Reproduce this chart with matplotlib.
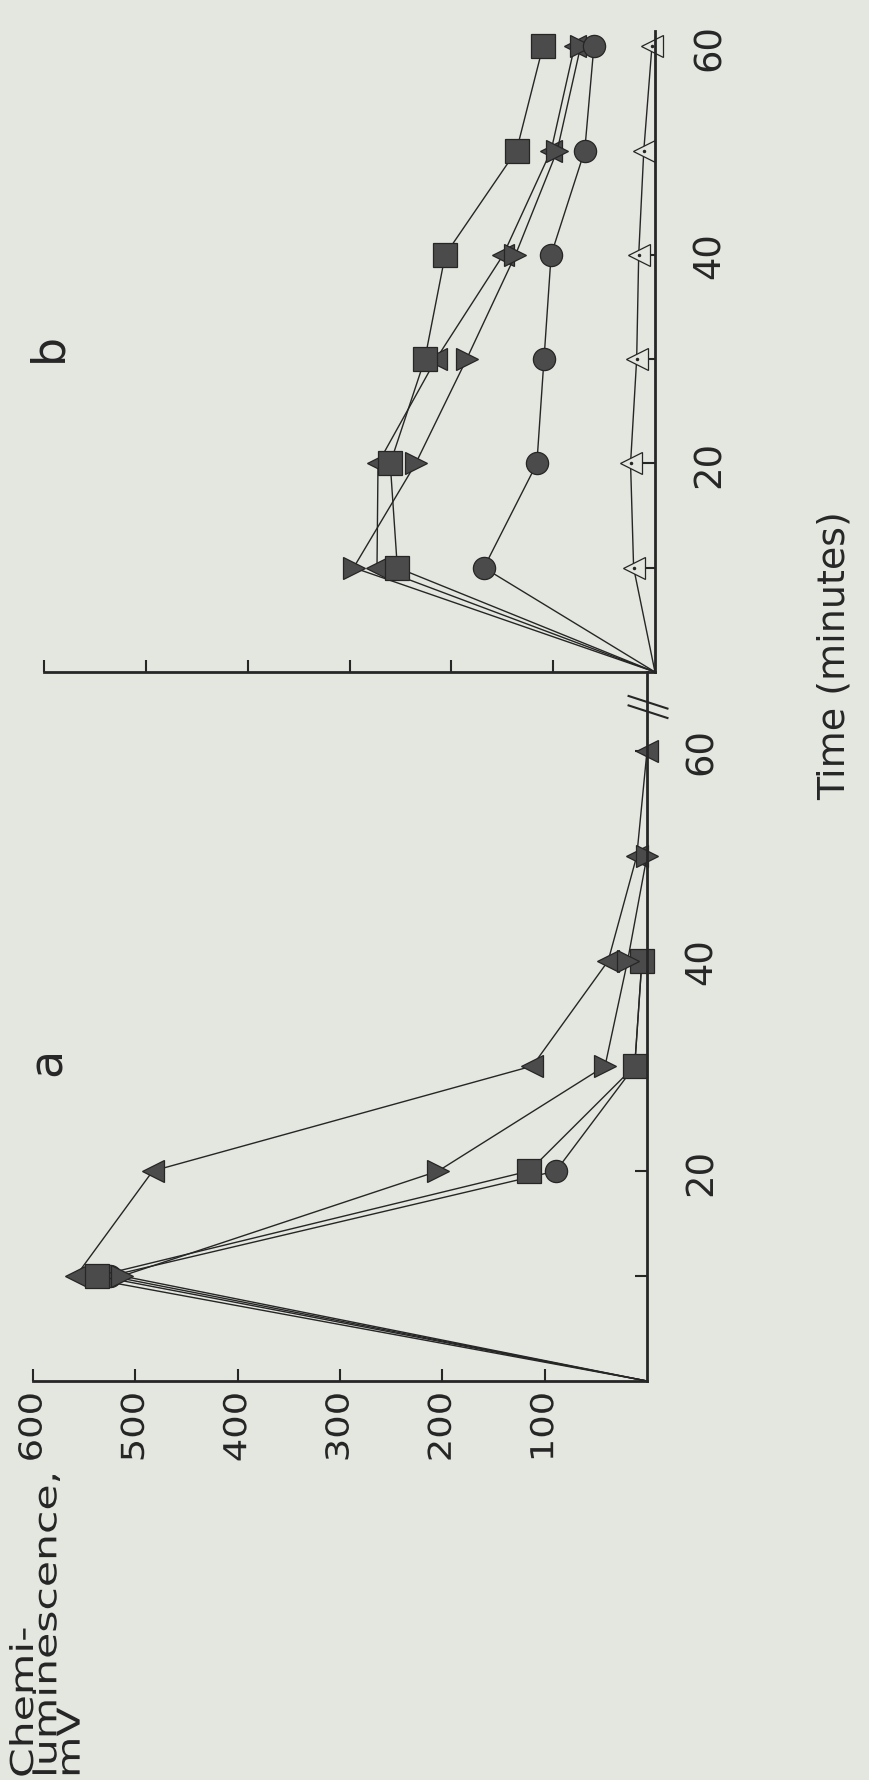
import matplotlib.pyplot as plt
from matplotlib import patheffects
from matplotlib.transforms import Affine2D

# tiempos de muestreo (minutos)
tiempos = [0, 10, 20, 30, 40, 50, 60]

# panel a (mV)
a_triangulo_arriba = [0, 558, 483, 112, 38, 10, 0]
a_triangulo_abajo = [0, 513, 204, 41, 19, 0]
a_cuadrado = [0, 537, 115, 12, 5]
a_circulo = [0, 525, 89, 12, 5]

# panel b (mV)
b_triangulo_arriba = [0, 273, 272, 215, 149, 102, 79]
b_triangulo_abajo = [0, 296, 235, 185, 137, 96, 73]
b_cuadrado = [0, 253, 260, 226, 206, 136, 110]
b_circulo = [0, 168, 116, 109, 102, 69, 60]
b_triangulo_abierto = [0, 21, 24, 18, 16, 11, 3]

valores_eje = [100, 200, 300, 400, 500, 600]
marcas_tiempo = [20, 40, 60]
marcas_tiempo_menores = [10, 30, 50]

ANCHO, ALTO = 869, 1781
fondo = '#e3e7df'
tinta = '#262626'
relleno = '#4b4b4b'


class Estirar(patheffects.AbstractPathEffect):
    """Ensancha el texto a lo largo de la línea de escritura."""

    def __init__(self, factor, ancla='left'):
        super().__init__()
        self.factor = factor
        self.ancla = ancla

    def draw_path(self, renderer, gc, tpath, affine, rgbFace=None):
        ext = tpath.get_extents()
        if self.ancla == 'left':
            cx = 0
        elif self.ancla == 'right':
            cx = ext.x1
        else:
            cx = (ext.x0 + ext.x1) / 2
        previa = Affine2D().translate(-cx, 0).scale(self.factor, 1).translate(cx, 0)
        renderer.draw_path(gc, tpath, previa + affine, rgbFace)


def caja(x0, y0, x1, y1):
    # pixeles (origen arriba a la izquierda) -> fracciones de figura
    return [x0 / ANCHO, 1 - y1 / ALTO, (x1 - x0) / ANCHO, (y1 - y0) / ALTO]


def preparar_eje(ax, tmax):
    ax.set_xlim(600, 0)
    ax.set_ylim(0, tmax)
    ax.patch.set_alpha(0)
    for lado in ['top', 'left']:
        ax.spines[lado].set_visible(False)
    for lado in ['bottom', 'right']:
        ax.spines[lado].set_linewidth(2)
        ax.spines[lado].set_color(tinta)
    ax.yaxis.tick_right()
    ax.set_yticks(marcas_tiempo, labels=[str(t) for t in marcas_tiempo],
                  rotation=90, va='center')
    ax.set_yticks(marcas_tiempo_menores, minor=True)
    ax.tick_params(which='both', direction='in', length=9, width=1.5, color=tinta)
    ax.tick_params(axis='y', pad=26, labelsize=26.6, labelcolor=tinta)


def serie(ax, valores, marcador, ms, cara=relleno):
    # el punto inicial (0, 0) va sin marcador
    t = tiempos[:len(valores)]
    ax.plot(valores, t, color=tinta, lw=1.0, marker=marcador, ms=ms,
            markevery=slice(1, None), mfc=cara, mec=tinta, mew=0.9,
            clip_on=False)


fig = plt.figure(figsize=(ANCHO / 100, ALTO / 100), dpi=100, facecolor=fondo)

# panel a: abajo
ax_a = fig.add_axes(caja(33, 673, 647, 1382))
preparar_eje(ax_a, (1382 - 673) / 10.5)
ax_a.set_xticks(valores_eje, labels=[str(v) for v in valores_eje], rotation=90)
ax_a.tick_params(axis='x', pad=8, labelsize=22.7, labelcolor=tinta)
for etiqueta in ax_a.get_xticklabels():
    etiqueta.set_path_effects([Estirar(1.17, 'right')])

serie(ax_a, a_triangulo_arriba, '<', 16)
serie(ax_a, a_circulo, 'o', 16)
serie(ax_a, a_cuadrado, 's', 17)
serie(ax_a, a_triangulo_abajo, '>', 16)

# corte del eje de tiempo
t_corte = (1382 - 708) / 10.5
for d in (-0.45, 0.45):
    ax_a.plot([18, -20], [t_corte + d + 0.6, t_corte + d - 0.6],
              color=tinta, lw=1.5, clip_on=False)

# panel b: arriba
ax_b = fig.add_axes(caja(44, 32, 655, 673))
preparar_eje(ax_b, 641 / 10.43)
ax_b.set_xticks(valores_eje)
ax_b.tick_params(axis='x', labelbottom=False)

serie(ax_b, b_triangulo_arriba, '<', 16)
serie(ax_b, b_triangulo_abajo, '>', 16)
serie(ax_b, b_cuadrado, 's', 17)
serie(ax_b, b_circulo, 'o', 16)
serie(ax_b, b_triangulo_abierto, '<', 16, cara=fondo)
ax_b.plot(b_triangulo_abierto[1:], tiempos[1:], ls='none', marker='.', ms=3,
          color=tinta, clip_on=False)

# textos
fig.text(835 / ANCHO, 1 - 656 / ALTO, 'Time (minutes)', rotation=90,
         ha='center', va='center', fontsize=27.4, color=tinta)

fig.text(9 / ANCHO, 1 - 1779 / ALTO, 'Chemi-\nluminescence,\nmV', rotation=90,
         rotation_mode='anchor', ha='left', va='top', linespacing=0.68,
         fontsize=22.7, color=tinta, path_effects=[Estirar(1.35, 'left')])

fig.text(61 / ANCHO, 1 - 1062 / ALTO, 'a', rotation=90, rotation_mode='anchor',
         ha='center', va='baseline', fontsize=33, color=tinta)
fig.text(61 / ANCHO, 1 - 347 / ALTO, 'b', rotation=90, rotation_mode='anchor',
         ha='center', va='baseline', fontsize=33, color=tinta)

fig.savefig('out.png', dpi=100, facecolor=fondo)
